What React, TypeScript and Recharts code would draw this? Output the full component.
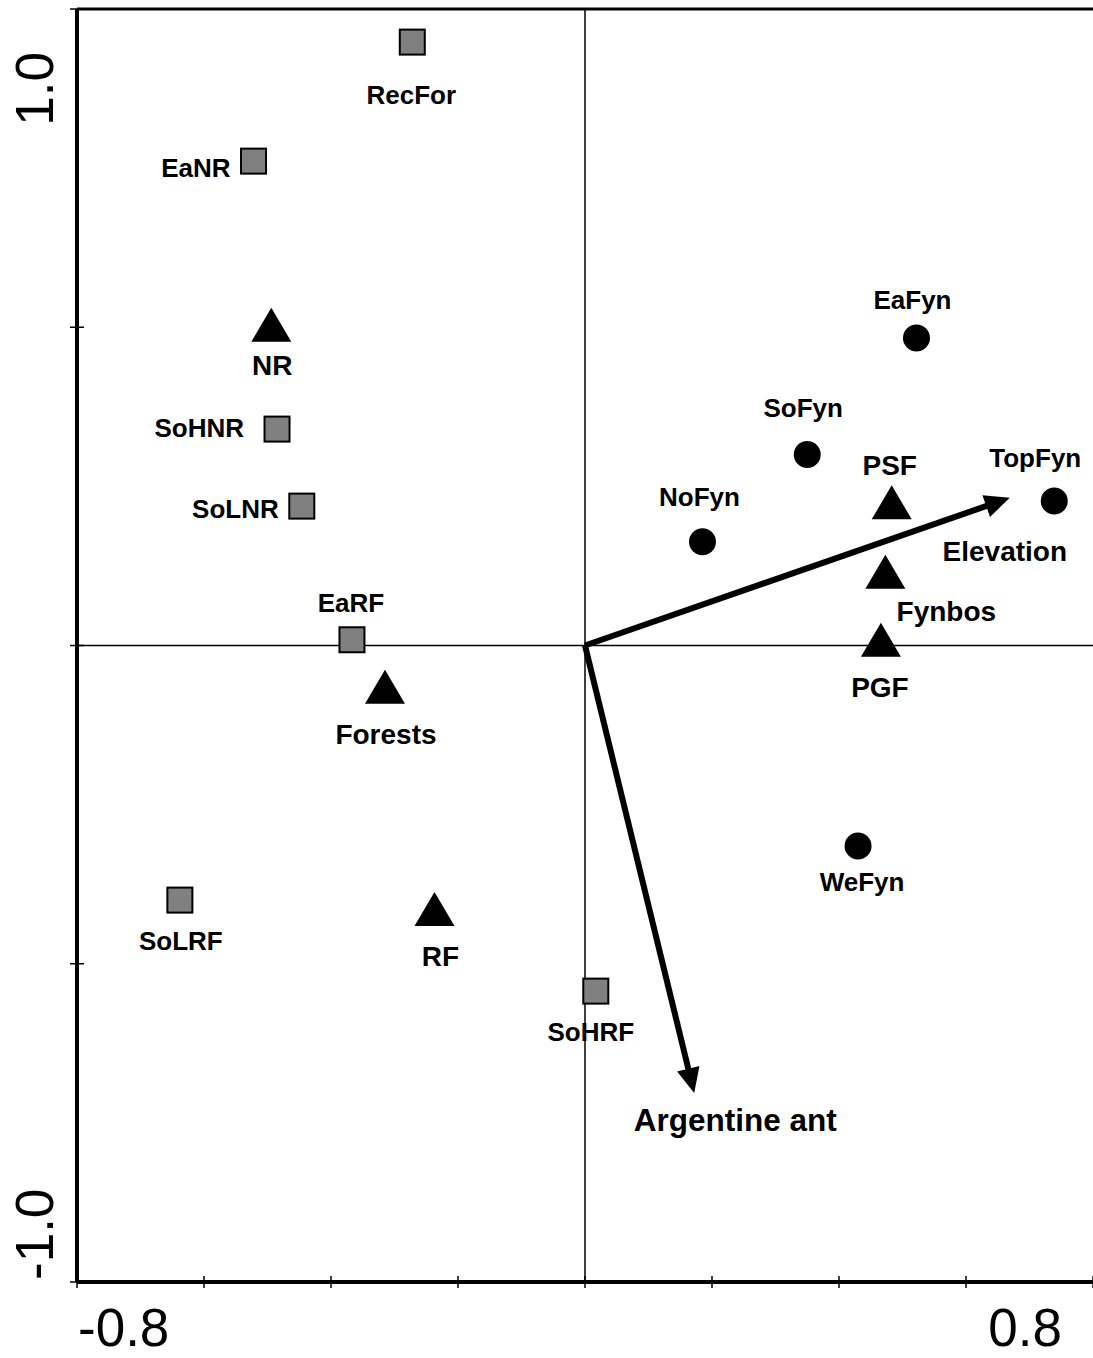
import React from 'react';
import { ScatterChart, Scatter, XAxis, YAxis, ReferenceLine } from 'recharts';

// Forest and nature-reserve sites (grey squares)
const forestSites = [
  { name: 'RecFor', x: -0.272, y: 0.948 },
  { name: 'EaNR', x: -0.522, y: 0.761 },
  { name: 'SoHNR', x: -0.485, y: 0.34 },
  { name: 'SoLNR', x: -0.446, y: 0.219 },
  { name: 'EaRF', x: -0.367, y: 0.009 },
  { name: 'SoLRF', x: -0.638, y: -0.4 },
  { name: 'SoHRF', x: 0.017, y: -0.543 },
];

// Fynbos sites (black circles)
const fynbosSites = [
  { name: 'EaFyn', x: 0.522, y: 0.483 },
  { name: 'SoFyn', x: 0.35, y: 0.3 },
  { name: 'NoFyn', x: 0.185, y: 0.163 },
  { name: 'TopFyn', x: 0.739, y: 0.227 },
  { name: 'WeFyn', x: 0.43, y: -0.315 },
];

// Habitat class centroids (black triangles)
const habitatCentroids = [
  { name: 'NR', x: -0.494, y: 0.504 },
  { name: 'Forests', x: -0.315, y: -0.065 },
  { name: 'RF', x: -0.237, y: -0.414 },
  { name: 'PSF', x: 0.483, y: 0.225 },
  { name: 'Fynbos', x: 0.473, y: 0.116 },
  { name: 'PGF', x: 0.466, y: 0.009 },
];

// Environmental variable vectors (arrows from the origin)
const envVectors = [
  { name: 'Elevation', x: 0.669, y: 0.232 },
  { name: 'Argentine ant', x: 0.172, y: -0.703 },
];

const xTicks = [-0.8, -0.6, -0.4, -0.2, 0, 0.2, 0.4, 0.6, 0.8];
const yTicks = [-1, -0.5, 0, 0.5, 1];
const xTickLabels: Record<string, string> = { '-0.8': '-0.8', '0.8': '0.8' };
const yTickLabels: Record<string, string> = { '-1': '-1.0', '1': '1.0' };

// Where each label sits relative to its marker (pixels)
type Placement = { dx: number; dy: number; anchor?: 'start' | 'middle' | 'end'; size: number };
const labelPlacement: Record<string, Placement> = {
  RecFor: { dx: -1, dy: 53, size: 26 },
  EaNR: { dx: -23, dy: 7, anchor: 'end', size: 26 },
  SoHNR: { dx: -33, dy: -1, anchor: 'end', size: 26 },
  SoLNR: { dx: -23, dy: 3, anchor: 'end', size: 26 },
  EaRF: { dx: -1, dy: -37, size: 26 },
  SoLRF: { dx: 1, dy: 41, size: 26 },
  SoHRF: { dx: -5, dy: 41, size: 26 },
  EaFyn: { dx: -4, dy: -38, size: 26 },
  SoFyn: { dx: -4, dy: -47, size: 26 },
  NoFyn: { dx: -3, dy: -45, size: 26 },
  TopFyn: { dx: -19, dy: -43, size: 26 },
  WeFyn: { dx: 4, dy: 36, size: 26 },
  NR: { dx: 1, dy: 40, size: 28 },
  Forests: { dx: 1, dy: 47, size: 28 },
  RF: { dx: 6, dy: 47, size: 28 },
  PSF: { dx: -2, dy: -37, size: 28 },
  Fynbos: { dx: 61, dy: 39, size: 28 },
  PGF: { dx: -1, dy: 47, size: 28 },
  Elevation: { dx: -5, dy: 53, size: 28 },
  'Argentine ant': { dx: 41, dy: 27, size: 31.5 },
};

const FONT = '"Liberation Sans", Arial, Helvetica, sans-serif';

const PointLabel = ({ x, y, name }: { x: number; y: number; name: string }) => {
  const p = labelPlacement[name];
  if (!p) return null;
  return (
    <text
      x={x + p.dx}
      y={y + p.dy}
      dy="0.36em"
      textAnchor={p.anchor ?? 'middle'}
      fontFamily={FONT}
      fontWeight="bold"
      fontSize={p.size}
      fill="#000"
    >
      {name}
    </text>
  );
};

const SquareMarker = (props: any) => {
  const { cx, cy, payload } = props;
  return (
    <g>
      <rect x={cx - 12.5} y={cy - 12.5} width={25} height={25} fill="#808080" stroke="#000" strokeWidth={2} />
      <PointLabel x={cx} y={cy} name={payload.name} />
    </g>
  );
};

const CircleMarker = (props: any) => {
  const { cx, cy, payload } = props;
  return (
    <g>
      <circle cx={cx} cy={cy} r={13.5} fill="#000" />
      <PointLabel x={cx} y={cy} name={payload.name} />
    </g>
  );
};

const TriangleMarker = (props: any) => {
  const { cx, cy, payload } = props;
  return (
    <g>
      <polygon points={`${cx},${cy - 17} ${cx - 20},${cy + 17} ${cx + 20},${cy + 17}`} fill="#000" />
      <PointLabel x={cx} y={cy} name={payload.name} />
    </g>
  );
};

const makeArrow = (name: string) => (props: any) => {
  const { x1, y1, x2, y2 } = props;
  const dx = x2 - x1;
  const dy = y2 - y1;
  const len = Math.hypot(dx, dy) || 1;
  const ux = dx / len;
  const uy = dy / len;
  const head = 25;
  const half = 11.5;
  const bx = x2 - ux * head;
  const by = y2 - uy * head;
  const px = -uy;
  const py = ux;
  return (
    <g>
      <line x1={x1} y1={y1} x2={bx + ux * 2} y2={by + uy * 2} stroke="#000" strokeWidth={6} />
      <polygon
        points={`${x2},${y2} ${bx + px * half},${by + py * half} ${bx - px * half},${by - py * half}`}
        fill="#000"
      />
      <PointLabel x={x2} y={y2} name={name} />
    </g>
  );
};

const XTick = (props: any) => {
  const { x, y, payload } = props;
  const key = String(payload.value);
  const label = xTickLabels[key];
  const isLeft = payload.value < 0;
  return (
    <g>
      <line x1={x} x2={x} y1={y - 6} y2={y + 6} stroke="#000" strokeWidth={1.5} />
      {label && (
        <text
          x={isLeft ? x + 1 : x - 31}
          y={y + 64}
          textAnchor={isLeft ? 'start' : 'end'}
          fontFamily={FONT}
          fontSize={53}
          fill="#000"
        >
          {label}
        </text>
      )}
    </g>
  );
};

const YTick = (props: any) => {
  const { x, y, payload } = props;
  const key = String(payload.value);
  const label = yTickLabels[key];
  const isTop = payload.value > 0;
  const bx = x - 24;
  const by = isTop ? y + 43 : y - 2;
  return (
    <g>
      <line x1={x - 7} x2={x + 7} y1={y} y2={y} stroke="#000" strokeWidth={1.5} />
      {label && (
        <text
          x={bx}
          y={by}
          transform={`rotate(-90, ${bx}, ${by})`}
          textAnchor={isTop ? 'end' : 'start'}
          fontFamily={FONT}
          fontSize={53}
          fill="#000"
        >
          {label}
        </text>
      )}
    </g>
  );
};

export default function App() {
  return (
    <div style={{ position: 'absolute', left: 0, top: 0, background: '#fff' }}>
      <ScatterChart width={1093} height={1358} margin={{ top: 9, right: 0, bottom: 0, left: 0 }}>
        <XAxis
          type="number"
          dataKey="x"
          domain={[-0.8, 0.8]}
          ticks={xTicks}
          allowDataOverflow
          height={76}
          axisLine={{ stroke: '#000', strokeWidth: 4 }}
          tickLine={false}
          tickSize={0}
          tickMargin={0}
          tick={<XTick />}
          interval={0}
        />
        <YAxis
          type="number"
          dataKey="y"
          domain={[-1, 1]}
          ticks={yTicks}
          allowDataOverflow
          width={77}
          axisLine={{ stroke: '#000', strokeWidth: 4 }}
          tickLine={false}
          tickSize={0}
          tickMargin={0}
          tick={<YTick />}
          interval={0}
        />
        <ReferenceLine y={1} stroke="#000" strokeWidth={3} />
        <ReferenceLine x={0} stroke="#000" strokeWidth={1.5} />
        <ReferenceLine y={0} stroke="#000" strokeWidth={1.5} />
        {envVectors.map((v) => (
          <ReferenceLine
            key={v.name}
            segment={[
              { x: 0, y: 0 },
              { x: v.x, y: v.y },
            ]}
            stroke="#000"
            shape={makeArrow(v.name)}
          />
        ))}
        <Scatter data={forestSites} shape={<SquareMarker />} isAnimationActive={false} />
        <Scatter data={fynbosSites} shape={<CircleMarker />} isAnimationActive={false} />
        <Scatter data={habitatCentroids} shape={<TriangleMarker />} isAnimationActive={false} />
      </ScatterChart>
    </div>
  );
}
